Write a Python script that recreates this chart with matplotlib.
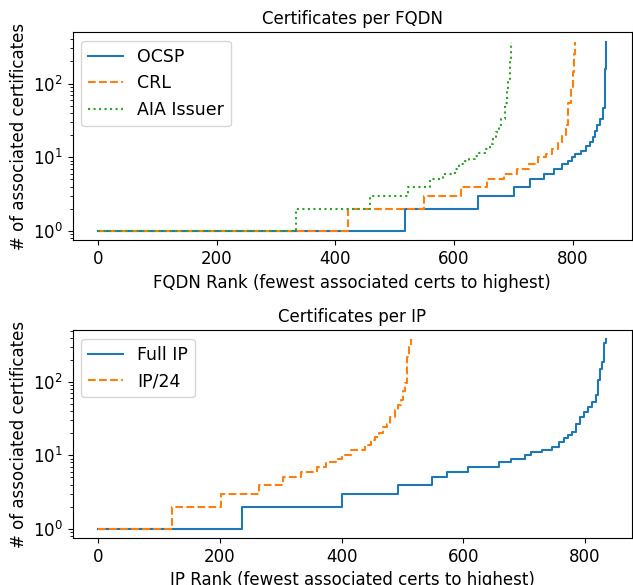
import matplotlib.pyplot as plt

# step breakpoints: rank where a new value starts, value
ocsp_rank = [0, 518, 640, 702, 728, 752, 768, 783, 793, 799, 805, 814, 822, 830,
             834, 838, 842, 847, 852, 854, 855, 856, 857]
ocsp_val = [1, 2, 3, 4, 5, 6, 7, 8, 9, 10, 11, 12, 14, 16,
            19, 23, 27, 33, 47, 62, 158, 250, 370]

crl_rank = [0, 421, 549, 612, 655, 685, 707, 727, 741, 755, 766, 775, 783, 789,
            793, 797, 800, 802, 804]
crl_val = [1, 2, 3, 4, 5, 6, 7, 8, 10, 11, 13, 16, 20, 27,
           55, 90, 143, 250, 370]

aia_rank = [0, 333, 458, 522, 559, 581, 601, 609, 618, 626, 635, 643, 652, 660,
            666, 671, 676, 680, 686, 689, 691, 694, 696]
aia_val = [1, 2, 3, 4, 5, 6, 7, 8, 9, 9.5, 10.5, 11.5, 13, 15,
           18, 22, 27, 33, 55, 80, 116, 200, 370]

fullip_rank = [0, 236, 400, 492, 548, 573, 608, 659, 679, 702, 712, 729, 745, 758,
               765, 772, 778, 785, 792, 798, 805, 811, 818, 821, 825, 828, 831, 835]
fullip_val = [1, 2, 3, 4, 5, 6, 7, 8, 9, 10, 11, 12, 13, 15,
              17, 19, 21, 27, 33, 39, 46, 54, 66, 107, 150, 189, 335, 380]

ip24_rank = [0, 122, 202, 265, 304, 334, 359, 374, 392, 400, 415, 438, 448, 455,
             461, 468, 474, 480, 487, 492, 497, 501, 504, 507, 510, 514]
ip24_val = [1, 2, 3, 4, 5, 6, 7, 8, 9, 10, 12, 14, 16, 18,
            20, 24, 27, 33, 41, 48, 57, 75, 96, 220, 300, 380]

YLABEL = "# of associated certificates"
FS = 12

fig, (ax1, ax2) = plt.subplots(2, 1, figsize=(6.33, 5.85), dpi=100)
fig.subplots_adjust(left=0.115, right=0.998, top=0.945, bottom=0.08, hspace=0.43)

ax1.step(ocsp_rank, ocsp_val, where="post", color="#1f77b4", lw=1.5, label="OCSP")
ax1.step(crl_rank, crl_val, where="post", color="#ff7f0e", lw=1.5, ls="--", label="CRL")
ax1.step(aia_rank, aia_val, where="post", color="#2ca02c", lw=1.5, ls=":", label="AIA Issuer")
ax1.set_yscale("log")
ax1.set_title("Certificates per FQDN", fontsize=FS)
ax1.set_xlabel("FQDN Rank (fewest associated certs to highest)", fontsize=FS)
ax1.set_ylabel(YLABEL, fontsize=FS)
ax1.legend(loc="upper left", fontsize=12.5)

ax2.step(fullip_rank, fullip_val, where="post", color="#1f77b4", lw=1.5, label="Full IP")
ax2.step(ip24_rank, ip24_val, where="post", color="#ff7f0e", lw=1.5, ls="--", label="IP/24")
ax2.set_yscale("log")
ax2.set_title("Certificates per IP", fontsize=FS)
ax2.set_xlabel("IP Rank (fewest associated certs to highest)", fontsize=FS)
ax2.set_ylabel(YLABEL, fontsize=FS)
ax2.legend(loc="upper left", fontsize=12.5)

for ax in (ax1, ax2):
    ax.tick_params(labelsize=FS)
    ax.set_xticks([0, 200, 400, 600, 800])

fig.savefig("out.png", dpi=100)
